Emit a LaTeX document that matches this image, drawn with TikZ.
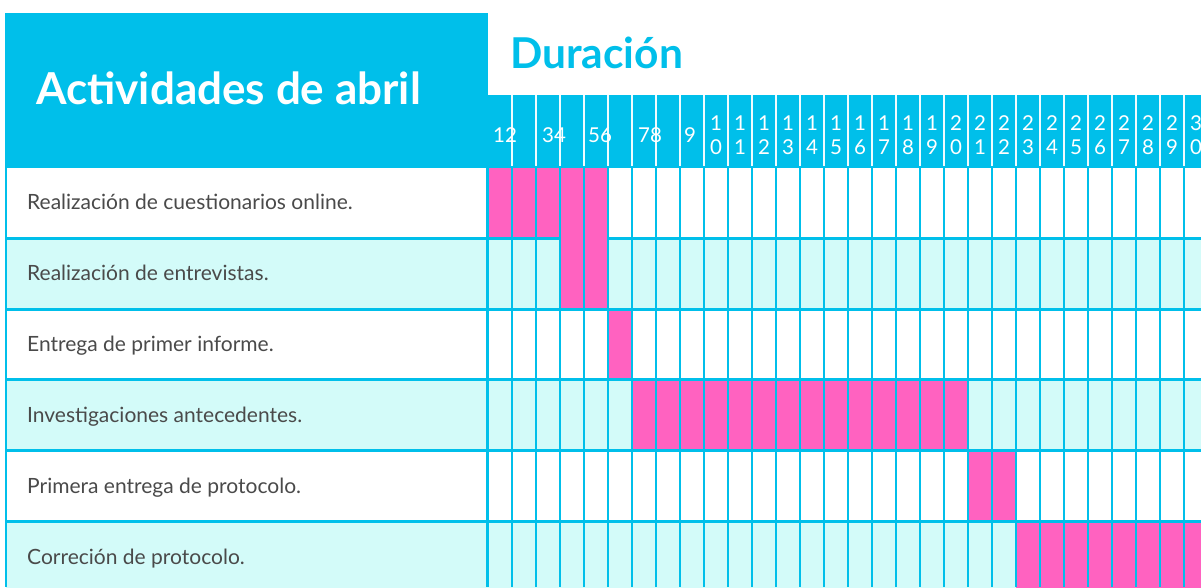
\documentclass[tikz,border=0pt]{standalone}
\usepackage{fontspec}
\setmainfont{Lato}
\definecolor{hdr}{HTML}{00BFEA}
\definecolor{lite}{HTML}{D3FBF9}
\definecolor{bar}{HTML}{FF62C0}
\definecolor{txt}{HTML}{4A4A4A}
\tikzset{
  acttext/.style={anchor=base west, inner sep=0pt, text=txt, font=\fontsize{21}{21}\selectfont},
  daylbl/.style={inner sep=0pt, text=white, align=center, font=\fontsize{20.5}{24}\selectfont},
  gridline/.style={hdr, line width=2pt},
  rowline/.style={hdr, line width=3pt},
  hdrline/.style={white!94!hdr, line width=2pt},
  barcell/.style={fill=bar},
}
\begin{document}
\begin{tikzpicture}[x=1pt,y=-1pt]
\useasboundingbox (0,0) rectangle (1201,587);
\clip (0,0) rectangle (1201,587);
\fill[white] (0,0) rectangle (1201,587);
% left header box
\fill[hdr] (5,13) rectangle (488,168);
\node[anchor=base west, inner sep=0pt, text=white, font=\bfseries\fontsize{44}{44}\selectfont] (ttl) at (36,104) {Actividades de abril};
% Duracion title
\node[anchor=base west, inner sep=0pt, text=hdr, font=\bfseries\fontsize{42.5}{42.5}\selectfont] (dur) at (510,68) {Duración};
% right header band
\fill[hdr] (488,95) rectangle (1201,168);
\foreach \k in {1,...,30} \draw[hdrline] (487.5+24*\k,95) -- (487.5+24*\k,166);
% day labels
\node[daylbl] (d12) at (505,135) {12};
\node[daylbl] (d34) at (554,135) {34};
\node[daylbl] (d56) at (600,135) {56};
\node[daylbl] (d78) at (650,135) {78};
\node[daylbl] (d9) at (690,135) {9};
\foreach \n [evaluate=\n as \cx using 476+24*\n] in {10,...,30} {
  \pgfmathtruncatemacro{\ta}{int(\n/10)}
  \pgfmathtruncatemacro{\tb}{mod(\n,10)}
  \node[daylbl] (d\n) at (\cx,135.5) {\ta\\\tb};
}
% rows
\foreach \r in {0,...,5} {
  \pgfmathsetmacro{\yt}{168+70.6*\r}
  \pgfmathsetmacro{\yb}{168+70.6*(\r+1)}
  \ifodd\r \fill[lite] (6,\yt) rectangle (1201,\yb); \else \fill[white] (6,\yt) rectangle (1201,\yb); \fi
}
% bars: row, first col, last col
\foreach \r/\a/\b in {0/1/5, 1/4/5, 2/6/6, 3/7/20, 4/21/22, 5/23/30} {
  \fill[barcell] (463.5+24*\a,168+70.6*\r) rectangle (487.5+24*\b,168+70.6*\r+70.6);
}
% horizontal lines
\foreach \r in {1,...,5} \draw[rowline] (5,168+70.6*\r) -- (1201,168+70.6*\r);
\fill[barcell] (559.5,236) rectangle (607.5,241);
% vertical lines
\foreach \k in {1,...,30} \draw[gridline] (487.5+24*\k,168) -- (487.5+24*\k,587);
\draw[hdr, line width=3pt] (487.5,168) -- (487.5,587);
\draw[hdr, line width=2.5pt] (6.2,168) -- (6.2,587);
% activity texts
\node[acttext] (a1) at (27,209.5) {Realización de cuestionarios online.};
\node[acttext] (a2) at (27,280.5) {Realización de entrevistas.};
\node[acttext] (a3) at (27,351.5) {Entrega de primer informe.};
\node[acttext] (a4) at (27,422) {Investigaciones antecedentes.};
\node[acttext] (a5) at (27,493) {Primera entrega de protocolo.};
\node[acttext] (a6) at (27,564) {Correción de protocolo.};
\end{tikzpicture}
\end{document}
